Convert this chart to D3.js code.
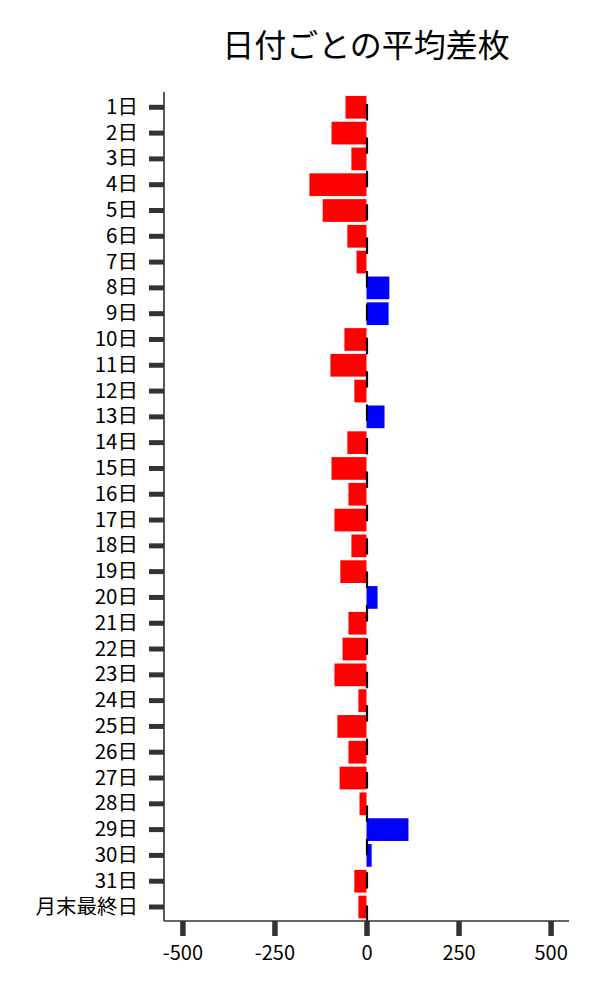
<!DOCTYPE html>
<html>
<head>
<meta charset="utf-8">
<script src="https://cdn.jsdelivr.net/npm/d3@7"></script>
<style>
  body { margin: 0; background: #fff; }
  text { font-family: "Noto Sans CJK JP", "Noto Sans", sans-serif; }
</style>
</head>
<body>
<div id="chart-area"></div>
<script>
const days = ["1日","2日","3日","4日","5日","6日","7日","8日","9日","10日",
  "11日","12日","13日","14日","15日","16日","17日","18日","19日","20日",
  "21日","22日","23日","24日","25日","26日","27日","28日","29日","30日",
  "31日","月末最終日"]
const avgDiff = [-57, -95, -41, -155, -119, -52, -27, 62, 60, -60,
  -98, -33, 49, -52, -95, -49, -87, -41, -71, 30,
  -49, -65, -87, -22, -79, -49, -73, -19, 114, 14,
  -33, -22]
const xTicks = [-500, -250, 0, 250, 500]

const MARGIN = { LEFT: 164, RIGHT: 31, TOP: 92, BOTTOM: 79 }
const W = 600, H = 1000

const svg = d3.select("#chart-area").append("svg")
  .attr("width", W)
  .attr("height", H)

const x = d3.scaleLinear()
  .domain([-550, 550])
  .range([MARGIN.LEFT, W - MARGIN.RIGHT])

// bands centered where the reference puts them
const y = d3.scaleBand()
  .domain(days)
  .range([94.4, 919.9])
  .paddingInner(0.12)
  .paddingOuter(0.06)

svg.append("text")
  .attr("x", 366)
  .attr("y", 57)
  .attr("text-anchor", "middle")
  .attr("font-size", "32px")
  .attr("fill", "#000")
  .text("日付ごとの平均差枚")

svg.selectAll("rect.bar")
  .data(days.map((d, i) => ({ day: d, v: avgDiff[i] })))
  .enter().append("rect")
  .attr("class", "bar")
  .attr("x", d => x(Math.min(0, d.v)))
  .attr("y", d => y(d.day))
  .attr("width", d => Math.abs(x(d.v) - x(0)))
  .attr("height", y.bandwidth())
  .attr("fill", d => d.v < 0 ? "#ff0000" : "#0000ff")

// dashed zero line
svg.append("line")
  .attr("x1", x(0) + 0.5).attr("x2", x(0) + 0.5)
  .attr("y1", 104).attr("y2", H - MARGIN.BOTTOM)
  .attr("stroke", "#000")
  .attr("stroke-width", 2.2)
  .attr("stroke-dasharray", "16.4,17")

// y axis
const yAxis = svg.append("g")
  .attr("transform", `translate(${MARGIN.LEFT},0)`)
  .call(d3.axisLeft(y).tickSize(15).tickPadding(11))
yAxis.select(".domain")
  .attr("d", `M0,${MARGIN.TOP}V${H - MARGIN.BOTTOM}`)
  .attr("stroke", "#000")
  .attr("stroke-width", 1.3)
yAxis.selectAll(".tick line")
  .attr("stroke", "#333")
  .attr("stroke-width", 5)
yAxis.selectAll(".tick text")
  .attr("font-size", "20.5px")
  .attr("fill", "#000")
  .attr("font-family", "Noto Sans CJK JP")

// x axis, plain hyphen for negatives like the reference
const xAxis = svg.append("g")
  .attr("transform", `translate(0,${H - MARGIN.BOTTOM})`)
  .call(d3.axisBottom(x).tickValues(xTicks).tickFormat(d => String(d)).tickSize(15).tickPadding(10))
xAxis.select(".domain")
  .attr("d", `M${MARGIN.LEFT},0H${W - MARGIN.RIGHT}`)
  .attr("stroke", "#333")
  .attr("stroke-width", 1.3)
xAxis.selectAll(".tick line")
  .attr("stroke", "#333")
  .attr("stroke-width", 5.5)
xAxis.selectAll(".tick text")
  .attr("font-size", "20px")
  .attr("fill", "#000")
  .attr("font-family", "Noto Sans CJK JP")
</script>
</body>
</html>
